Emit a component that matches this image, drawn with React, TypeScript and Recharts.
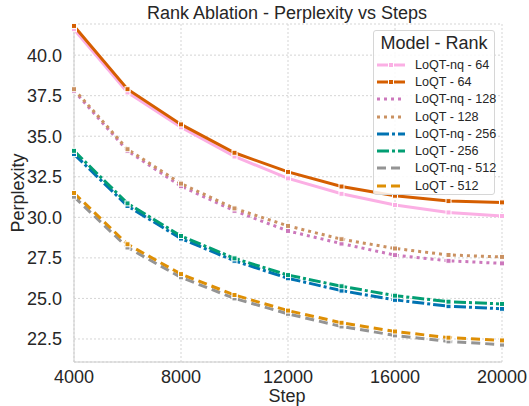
import React from 'react'
import {
  LineChart,
  Line,
  XAxis,
  YAxis,
  CartesianGrid
} from 'recharts'

// steps sampled every 2000
const steps = [4000, 6000, 8000, 10000, 12000, 14000, 16000, 18000, 20000]

const nq64 = [41.6, 37.7, 35.55, 33.75, 32.4, 31.45, 30.76, 30.3, 30.08]
const loqt64 = [41.8, 37.9, 35.73, 33.98, 32.8, 31.9, 31.33, 31.0, 30.92]
const nq128 = [37.8, 34.1, 31.92, 30.4, 29.16, 28.38, 27.67, 27.32, 27.16]
const loqt128 = [37.9, 34.2, 32.08, 30.55, 29.47, 28.65, 28.08, 27.68, 27.56]
const nq256 = [33.9, 30.7, 28.69, 27.32, 26.24, 25.48, 24.91, 24.52, 24.36]
const loqt256 = [34.1, 30.86, 28.85, 27.47, 26.44, 25.75, 25.17, 24.8, 24.66]
const nq512 = [31.27, 28.14, 26.3, 25.0, 24.05, 23.27, 22.72, 22.35, 22.15]
const loqt512 = [31.5, 28.34, 26.5, 25.21, 24.25, 23.5, 22.96, 22.58, 22.41]

const xTicks = [4000, 8000, 12000, 16000, 20000]
const yTicks = [22.5, 25, 27.5, 30, 32.5, 35, 37.5, 40]

const series = [
  { key: 'nq64', name: 'LoQT-nq - 64', values: nq64, color: '#fbafe4', dash: undefined },
  { key: 'loqt64', name: 'LoQT - 64', values: loqt64, color: '#d55e00', dash: undefined },
  { key: 'nq128', name: 'LoQT-nq - 128', values: nq128, color: '#cc78bc', dash: '3 4' },
  { key: 'loqt128', name: 'LoQT - 128', values: loqt128, color: '#ca9161', dash: '3 4' },
  { key: 'nq256', name: 'LoQT-nq - 256', values: nq256, color: '#0173b2', dash: '12 3 3 3' },
  { key: 'loqt256', name: 'LoQT - 256', values: loqt256, color: '#029e73', dash: '12 3 3 3' },
  { key: 'nq512', name: 'LoQT-nq - 512', values: nq512, color: '#949494', dash: '9 5' },
  { key: 'loqt512', name: 'LoQT - 512', values: loqt512, color: '#de8f05', dash: '9 5' }
]

const data = steps.map((step, i) => {
  const row: Record<string, number> = { step }
  series.forEach(s => {
    row[s.key] = s.values[i]
  })
  return row
})

const FONT = '"Liberation Sans", Arial, sans-serif'
const TEXT = '#262626'

function squareDot(color: string) {
  return (props: any) => {
    const { cx, cy, index } = props
    if (cx == null || cy == null) return <g key={index} />
    return (
      <rect
        key={index}
        x={cx - 2.5}
        y={cy - 2.5}
        width={5}
        height={5}
        fill={color}
        stroke="#ffffff"
        strokeWidth={1}
      />
    )
  }
}

function LegendBox() {
  return (
    <div
      style={{
        position: 'absolute',
        left: 373,
        top: 30,
        background: 'rgba(255,255,255,0.85)',
        border: '1px solid #d6d6d6',
        borderRadius: 3,
        width: 122,
        height: 165,
        boxSizing: 'border-box',
        fontFamily: FONT,
        color: TEXT,
        whiteSpace: 'nowrap'
      }}
    >
      <div style={{ fontSize: 18, textAlign: 'center', lineHeight: '20px', paddingTop: 2, height: 22 }}>
        Model - Rank
      </div>
      <div style={{ paddingTop: 1 }}>
        {series.map(s => (
          <div key={s.key} style={{ display: 'flex', alignItems: 'center', height: 17.3 }}>
            <svg width={38} height={10} style={{ marginLeft: 3, flex: 'none' }}>
              <line
                x1={0}
                y1={5}
                x2={28}
                y2={5}
                stroke={s.color}
                strokeWidth={3}
                strokeDasharray={s.dash}
              />
              {!s.dash && (
                <rect x={11.5} y={2.5} width={5} height={5} fill={s.color} stroke="#fff" strokeWidth={1} />
              )}
            </svg>
            <span style={{ fontSize: 12.6, lineHeight: '14px' }}>{s.name}</span>
          </div>
        ))}
      </div>
    </div>
  )
}

export default function App() {
  return (
    <div style={{ position: 'absolute', left: 0, top: 0, width: 529, height: 406, background: '#fff' }}>
      <LineChart
        width={529}
        height={406}
        data={data}
        margin={{ top: 24, right: 27, bottom: 0, left: 0 }}
      >
        <CartesianGrid stroke="#d5d5d5" strokeDasharray="2 2" />
        <XAxis
          dataKey="step"
          type="number"
          domain={[4000, 20000]}
          ticks={xTicks}
          height={44}
          tickLine={false}
          axisLine={{ stroke: '#cccccc' }}
          tick={{ fill: TEXT, fontSize: 18, fontFamily: FONT }}
          tickMargin={2}
        />
        <YAxis
          type="number"
          domain={[21.08, 41.92]}
          ticks={yTicks}
          width={74}
          tickLine={false}
          axisLine={{ stroke: '#cccccc' }}
          tick={{ fill: TEXT, fontSize: 18, fontFamily: FONT }}
          tickFormatter={(v: number) => v.toFixed(1)}
          tickMargin={6}
        />
        <text x={287} y={19} textAnchor="middle" fill={TEXT} fontSize={18} fontFamily={FONT}>
          Rank Ablation - Perplexity vs Steps
        </text>
        <text x={287} y={402} textAnchor="middle" fill={TEXT} fontSize={18} fontFamily={FONT}>
          Step
        </text>
        <text
          x={24}
          y={193}
          textAnchor="middle"
          fill={TEXT}
          fontSize={18}
          fontFamily={FONT}
          transform="rotate(-90 24 193)"
        >
          Perplexity
        </text>
        {series.map(s => (
          <Line
            key={s.key}
            dataKey={s.key}
            name={s.name}
            type="linear"
            stroke={s.color}
            strokeWidth={3}
            strokeDasharray={s.dash}
            dot={squareDot(s.color)}
            activeDot={false}
            isAnimationActive={false}
          />
        ))}
      </LineChart>
      <LegendBox />
    </div>
  )
}
